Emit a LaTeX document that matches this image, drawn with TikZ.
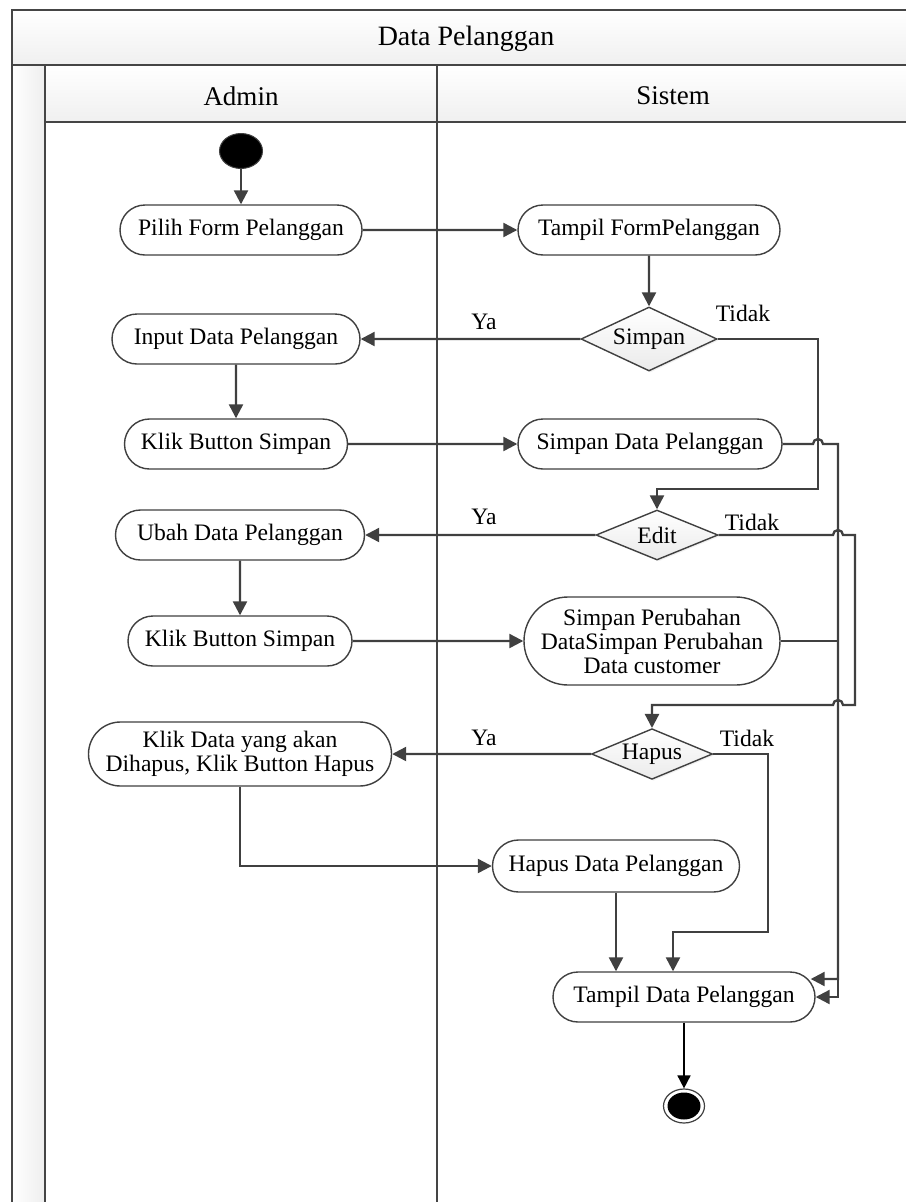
\documentclass[tikz,border=0pt]{standalone}
\usepackage{fontspec}
\setmainfont{Liberation Serif}
\usetikzlibrary{shapes.misc,shapes.geometric,arrows.meta,calc,shadows}

\definecolor{ink}{HTML}{404040}
\definecolor{frameink}{HTML}{454545}

\begin{document}
\begin{tikzpicture}[x=1pt,y=-1pt,
  font=\fontsize{23.6}{24}\selectfont,
  act/.style={rounded rectangle, draw=ink, line width=1.4pt, fill=white,
    minimum height=50pt, inner sep=0pt, align=center},
  dec/.style={diamond, aspect=2, draw=ink, line width=1.4pt, inner sep=0pt,
    top color=white, bottom color=gray!16,
    drop shadow={opacity=0.12, shadow xshift=1.5pt, shadow yshift=-1.5pt}},
  flow/.style={draw=ink, line width=2.3pt, -{Triangle[length=14pt,width=14pt]}},
  lbl/.style={inner sep=0pt},
  lane/.style={draw=frameink, line width=2.4pt},
  startdot/.style={ellipse, fill=black, draw=ink, line width=1pt,
    minimum width=43pt, minimum height=35pt, inner sep=0pt},
  endring/.style={ellipse, fill=white, draw=ink, line width=1.2pt,
    minimum width=41pt, minimum height=34pt, inner sep=0pt},
  endcore/.style={ellipse, fill=black, minimum width=33pt, minimum height=27pt, inner sep=0pt},
  ]
\useasboundingbox (0,0) rectangle (905,1202);
\fill[white] (0,0) rectangle (905,1202);

% swimlane frame
\shade[top color=white, bottom color=gray!12] (12,10) rectangle (920,65);
\shade[top color=white, bottom color=gray!12] (45,65) rectangle (920,122);
\shade[left color=white, right color=gray!13] (12,65) rectangle (45,1215);
\draw[lane] (920,10) -- (12,10) -- (12,1215);
\draw[lane] (12,65) -- (920,65);
\draw[lane] (45,65) -- (45,1215);
\draw[lane] (45,122) -- (920,122);
\draw[lane] (437,65) -- (437,1215);

\node (title) at (466,39) {\fontsize{28}{30}\selectfont Data Pelanggan};
\node (admin) at (241,96) {\fontsize{27}{30}\selectfont Admin};
\node (sistem) at (673,96) {\fontsize{27}{30}\selectfont Sistem};

% activities
\node[startdot] (start) at (241,151) {};
\node[act, minimum width=242pt] (pilih) at (241,230) {Pilih Form Pelanggan};
\node[act, minimum width=262pt] (tform) at (649,230) {Tampil FormPelanggan};
\node[dec, minimum width=136pt, minimum height=64pt] (dsimpan) at (649,339) {Simpan};
\node[act, minimum width=248pt] (input) at (236,339) {Input Data Pelanggan};
\node[act, minimum width=223pt] (klik1) at (236,444) {Klik Button Simpan};
\node[act, minimum width=264pt] (sdata) at (650,444) {Simpan Data Pelanggan};
\node[dec, minimum width=122pt, minimum height=50pt] (dedit) at (657,535) {Edit};
\node[act, minimum width=249pt] (ubah) at (240,535) {Ubah Data Pelanggan};
\node[act, minimum width=224pt] (klik2) at (240,641) {Klik Button Simpan};
\node[act, minimum width=256pt, minimum height=88pt] (sper) at (652,641)
  {Simpan Perubahan\\DataSimpan Perubahan\\Data customer};
\node[dec, minimum width=121pt, minimum height=50pt] (dhapus) at (652,754) {Hapus};
\node[act, minimum width=303pt, minimum height=64pt] (klikdata) at (240,754)
  {Klik Data yang akan\\Dihapus, Klik Button Hapus};
\node[act, minimum width=247pt, minimum height=52pt] (hdata) at (616,866) {Hapus Data Pelanggan};
\node[act, minimum width=262pt] (tdata) at (684,997) {Tampil Data Pelanggan};
\node[endring] (end) at (684,1106) {};
\node[endcore] (endfill) at (end.center) {};

% guard labels
\node[lbl] (ya1) at (484,322) {Ya};
\node[lbl] (tidak1) at (743,313) {Tidak};
\node[lbl] (ya2) at (484,517) {Ya};
\node[lbl] (tidak2) at (752,522) {Tidak};
\node[lbl] (ya3) at (484,738) {Ya};
\node[lbl] (tidak3) at (747,738) {Tidak};

% routing points
\coordinate (r1) at (818,489);
\coordinate (busA) at (838,444);
\coordinate (r2) at (855,705);
\coordinate (r3) at (768,932);
\coordinate (bus) at (838,641);
\coordinate (tinA) at ($(tdata.east)+(-5,-18)$);
\coordinate (tx) at (673,0);

% flows
\draw[flow] (start) -- (pilih);
\draw[flow] (pilih) -- (tform);
\draw[flow] (tform) -- (dsimpan);
\draw[flow] (dsimpan) -- (input);
\draw[flow] (input) -- (klik1);
\draw[flow] (klik1) -- (sdata);
\draw[flow] (dsimpan.east) -| (r1) -| (dedit.north);
\draw[flow] (sdata.east) -- (813,444) arc[start angle=180, end angle=0, radius=5pt]
  -- (busA) |- (tinA);
\draw[flow] (dedit) -- (ubah);
\draw[flow] (ubah) -- (klik2);
\draw[flow] (klik2) -- (sper);
\draw[flow] (dedit.east) -- (833,535) arc[start angle=180, end angle=0, radius=5pt]
  -| (r2) -- (843,705) arc[start angle=0, end angle=180, radius=5pt] -| (dhapus.north);
\draw[flow] (sper.east) -- (bus) |- (tdata.east);
\draw[flow] (dhapus) -- (klikdata);
\draw[flow] (klikdata.south) |- (hdata.west);
\draw[flow] (hdata.south) -- (hdata.south |- tdata.north);
\draw[flow] (dhapus.east) -| (r3) -| (tx |- tdata.north);
\draw[draw=black, line width=1.7pt, -{Triangle[length=13pt,width=13pt]}] (tdata.south) -- (end.north);
\end{tikzpicture}
\end{document}
